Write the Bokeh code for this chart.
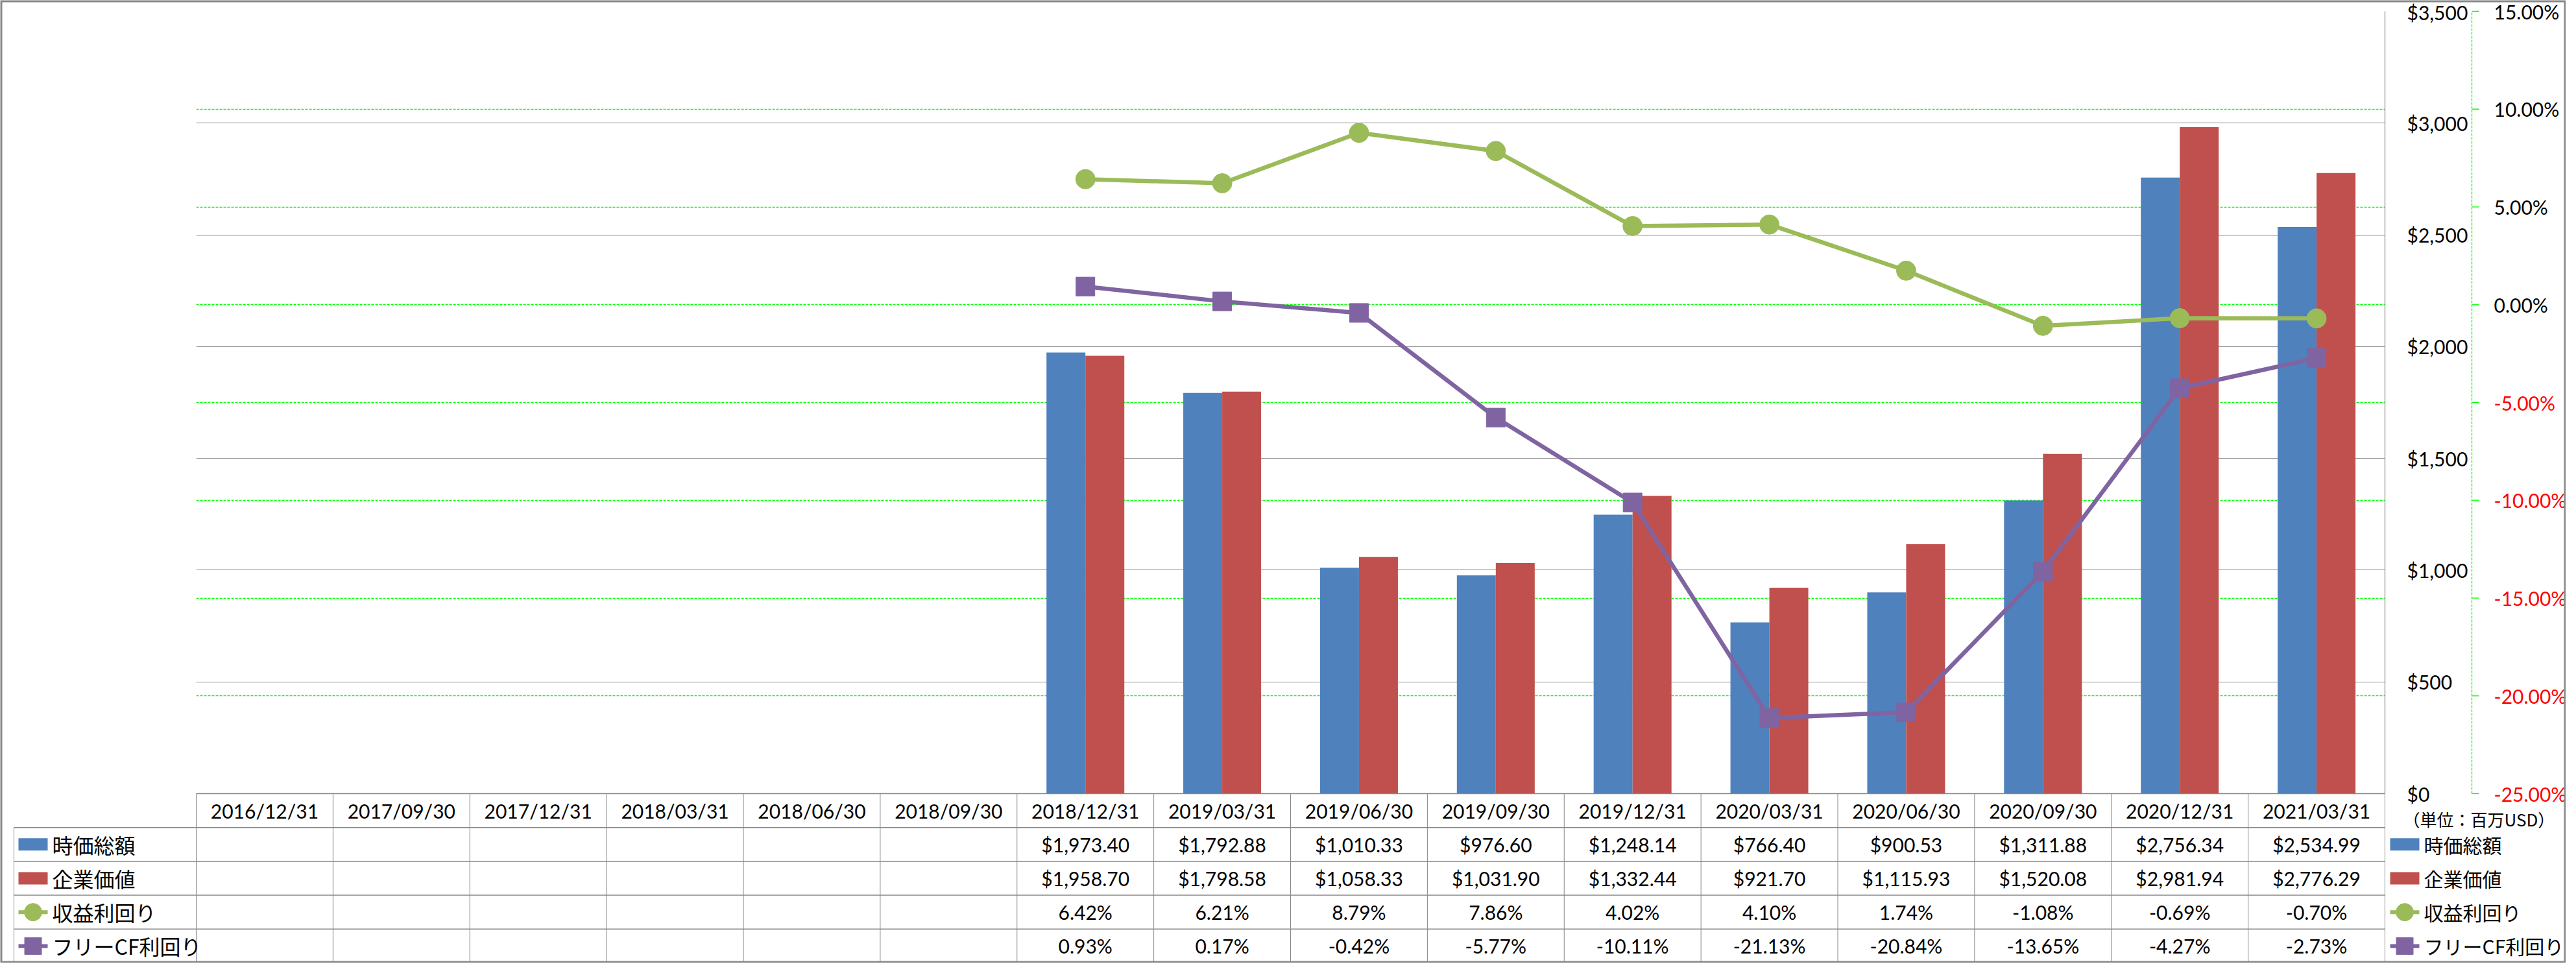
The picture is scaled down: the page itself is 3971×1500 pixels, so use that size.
import math
from bokeh.plotting import figure
from bokeh.models import (ColumnDataSource, Range1d, FactorRange, SingleIntervalTicker,
                          NumeralTickFormatter, Grid, GridBox)
from bokeh.transform import dodge
from bokeh.core.properties import value
from bokeh.embed import file_html
from bokeh.resources import INLINE

# ---------------- data ----------------
dates = ["2016/12/31", "2017/09/30", "2017/12/31", "2018/03/31", "2018/06/30", "2018/09/30",
         "2018/12/31", "2019/03/31", "2019/06/30", "2019/09/30", "2019/12/31", "2020/03/31",
         "2020/06/30", "2020/09/30", "2020/12/31", "2021/03/31"]
nan = float("nan")
market_cap = [nan, nan, nan, nan, nan, nan,
              1973.40, 1792.88, 1010.33, 976.60, 1248.14, 766.40, 900.53, 1311.88, 2756.34, 2534.99]
enterprise_value = [nan, nan, nan, nan, nan, nan,
                    1958.70, 1798.58, 1058.33, 1031.90, 1332.44, 921.70, 1115.93, 1520.08, 2981.94, 2776.29]
earnings_yield = [nan, nan, nan, nan, nan, nan,
                  6.42, 6.21, 8.79, 7.86, 4.02, 4.10, 1.74, -1.08, -0.69, -0.70]
fcf_yield = [nan, nan, nan, nan, nan, nan,
             0.93, 0.17, -0.42, -5.77, -10.11, -21.13, -20.84, -13.65, -4.27, -2.73]
series_names = ["時価総額", "企業価値", "収益利回り", "フリーCF利回り"]
unit_note = "（単位：百万USD）"
usd_range = (0, 3500)
usd_step = 500
pct_range = (-25, 15)
pct_step = 5

# ---------------- style / layout ----------------
BLUE, RED, GREEN, PURPLE = "#4F81BD", "#C0504D", "#9BBB59", "#8064A2"
GRAY = "#878787"
DGREEN = "#00FF00"
FONT = "Lato"
JFONT = "Noto Sans CJK JP"
W, H = 3955, 1484
FL, FR, FT, FB = 302, 279, 17, 261
n = len(dates)
cw = (W - FL - FR) / n
frame_h = H - FT - FB
row_h = FB / 5
ppp = frame_h / (pct_range[1] - pct_range[0])


def sxp(page_x):
    """page pixel x -> synthetic category coordinate"""
    return (page_x - 8 - FL) / cw


def no_align(fig):
    try:
        fig.frame_align = False
    except Exception:
        pass


# ---------------- chart ----------------
src = ColumnDataSource(dict(date=dates, mcap=market_cap, ev=enterprise_value,
                            ey=earnings_yield, fcf=fcf_yield))

p = figure(width=W, height=H, x_range=FactorRange(factors=dates, range_padding=0),
           y_range=Range1d(*usd_range), y_axis_location="right", x_axis_location=None,
           toolbar_location=None, output_backend="svg", title=None,
           min_border_left=FL, min_border_right=FR, min_border_top=FT, min_border_bottom=FB)
no_align(p)
p.outline_line_color = None
p.background_fill_color = "white"
p.border_fill_color = "white"
p.extra_y_ranges = {"pct": Range1d(*pct_range)}

for g in p.xgrid:
    g.visible = False
p.ygrid.grid_line_color = GRAY
p.ygrid.grid_line_width = 1.2
p.ygrid.ticker = SingleIntervalTicker(interval=usd_step, num_minor_ticks=0)

p.add_layout(Grid(dimension=1, ticker=SingleIntervalTicker(interval=pct_step, num_minor_ticks=0),
                  y_range_name="pct", grid_line_color=DGREEN, grid_line_dash="4 2",
                  grid_line_width=1.3))

ya = p.yaxis[0]
ya.ticker = SingleIntervalTicker(interval=usd_step, num_minor_ticks=0)
ya.formatter = NumeralTickFormatter(format="$0,0")
ya.axis_line_color = GRAY
ya.axis_line_width = 1.2
ya.major_tick_out = 0
ya.major_tick_in = 0
ya.minor_tick_out = 0
ya.minor_tick_in = 0
ya.major_label_standoff = 34
ya.major_label_text_font = FONT
ya.major_label_text_font_size = "30px"
ya.major_label_text_color = "black"

bw = 60 / cw
p.vbar(x=dodge("date", -bw / 2, range=p.x_range), top="mcap", width=bw, source=src,
       fill_color=BLUE, line_color=None)
p.vbar(x=dodge("date", bw / 2, range=p.x_range), top="ev", width=bw, source=src,
       fill_color=RED, line_color=None)

p.line(x="date", y="ey", source=src, y_range_name="pct", line_color=GREEN, line_width=6.5)
p.scatter(x="date", y="ey", source=src, y_range_name="pct", marker="circle", size=30,
          fill_color=GREEN, line_color=GREEN)
p.line(x="date", y="fcf", source=src, y_range_name="pct", line_color=PURPLE, line_width=6.5)
p.scatter(x="date", y="fcf", source=src, y_range_name="pct", marker="square", size=29,
          fill_color=PURPLE, line_color=PURPLE)

# ---------------- overlay: % axis, data table, legend ----------------
ov = figure(width=W, height=H, x_range=Range1d(-FL / cw, n + FR / cw),
            y_range=Range1d(0, H / row_h), x_axis_location=None, y_axis_location=None,
            toolbar_location=None, output_backend="svg", title=None, min_border=0)
no_align(ov)
ov.outline_line_color = None
ov.background_fill_color = None
ov.border_fill_color = None
for g in ov.grid:
    g.visible = False
ov.extra_y_ranges = {"pct": Range1d(pct_range[0] - FB / ppp, pct_range[1] + FT / ppp)}

# secondary (%) axis
pct_ticks = list(range(pct_range[0], pct_range[1] + 1, pct_step))
ax_x = sxp(3818)
ov.segment(x0=[ax_x], x1=[ax_x], y0=[pct_range[0]], y1=[pct_range[1]], y_range_name="pct",
           line_color=DGREEN, line_dash="4 2", line_width=1.3)
ov.segment(x0=[ax_x] * len(pct_ticks), x1=[sxp(3829)] * len(pct_ticks), y0=pct_ticks,
           y1=pct_ticks, y_range_name="pct", line_color=DGREEN, line_width=1.3)
ov.text(x=[sxp(3852)] * len(pct_ticks), y=pct_ticks, text=[f"{v:.2f}%" for v in pct_ticks],
        y_range_name="pct", text_color=["red" if v < 0 else "black" for v in pct_ticks],
        text_font=value(FONT), text_font_size="30px", text_align="left",
        text_baseline="middle")


def fmt_usd(v):
    return "" if math.isnan(v) else f"${v:,.2f}"


def fmt_pct(v):
    return "" if math.isnan(v) else f"{v:.2f}%"


table_rows = [dates,
              [fmt_usd(v) for v in market_cap],
              [fmt_usd(v) for v in enterprise_value],
              [fmt_pct(v) for v in earnings_yield],
              [fmt_pct(v) for v in fcf_yield]]
tx, ty, tt = [], [], []
for r, row in enumerate(table_rows):
    for i, s in enumerate(row):
        if s:
            tx.append(i + 0.5)
            ty.append(4.5 - r)
            tt.append(s)
ov.text(x=tx, y=ty, text=tt, text_font=value(FONT), text_font_size="30px",
        text_align="center", text_baseline="middle", text_color="black")

xl = sxp(29)
hx0 = [0, xl, xl, xl, xl]
hy = [5, 4, 3, 2, 1]
ov.segment(x0=hx0, x1=[n] * 5, y0=hy, y1=hy, line_color=GRAY, line_width=1.5)
vx = list(range(n + 1))
ov.segment(x0=vx, x1=vx, y0=[0] * len(vx), y1=[5] * len(vx), line_color=GRAY, line_width=1)
ov.segment(x0=[xl], x1=[xl], y0=[0], y1=[4], line_color=GRAY, line_width=1)

row_y = [3.5, 2.5, 1.5, 0.5]


def legend_block(x_sw0, x_sw1, x_txt, size):
    xc = (x_sw0 + x_sw1) / 2
    ov.rect(x=[xc, xc], y=row_y[:2], width=45, height=19, width_units="screen",
            height_units="screen", fill_color=[BLUE, RED], line_color=None)
    ov.segment(x0=[x_sw0, x_sw0], x1=[x_sw1, x_sw1], y0=row_y[2:], y1=row_y[2:],
               line_color=[GREEN, PURPLE], line_width=6)
    ov.scatter(x=[xc], y=[row_y[2]], marker="circle", size=27, fill_color=GREEN,
               line_color=GREEN)
    ov.scatter(x=[xc], y=[row_y[3]], marker="square", size=26, fill_color=PURPLE,
               line_color=PURPLE)
    ov.text(x=[x_txt] * 4, y=row_y, text=series_names, text_font=value(JFONT),
            text_font_size=size, text_align="left", text_baseline="middle", text_color="black")


legend_block(sxp(36), sxp(81), sxp(88), "32px")
legend_block(sxp(3692), sxp(3737), sxp(3744), "30px")
ov.text(x=[sxp(3712)], y=[5 - 39 / row_h], text=[unit_note], text_font=value(JFONT),
        text_font_size="26px", text_align="left", text_baseline="middle", text_color="black")

# outer chart border
ov.quad(left=[ov.x_range.start], right=[ov.x_range.end], bottom=[ov.y_range.start],
        top=[ov.y_range.end], fill_color=None, line_color="#878787", line_width=6)

layout = GridBox(children=[(p, 0, 0), (ov, 0, 0)])

open("out.html", "w").write(file_html(layout, INLINE))
